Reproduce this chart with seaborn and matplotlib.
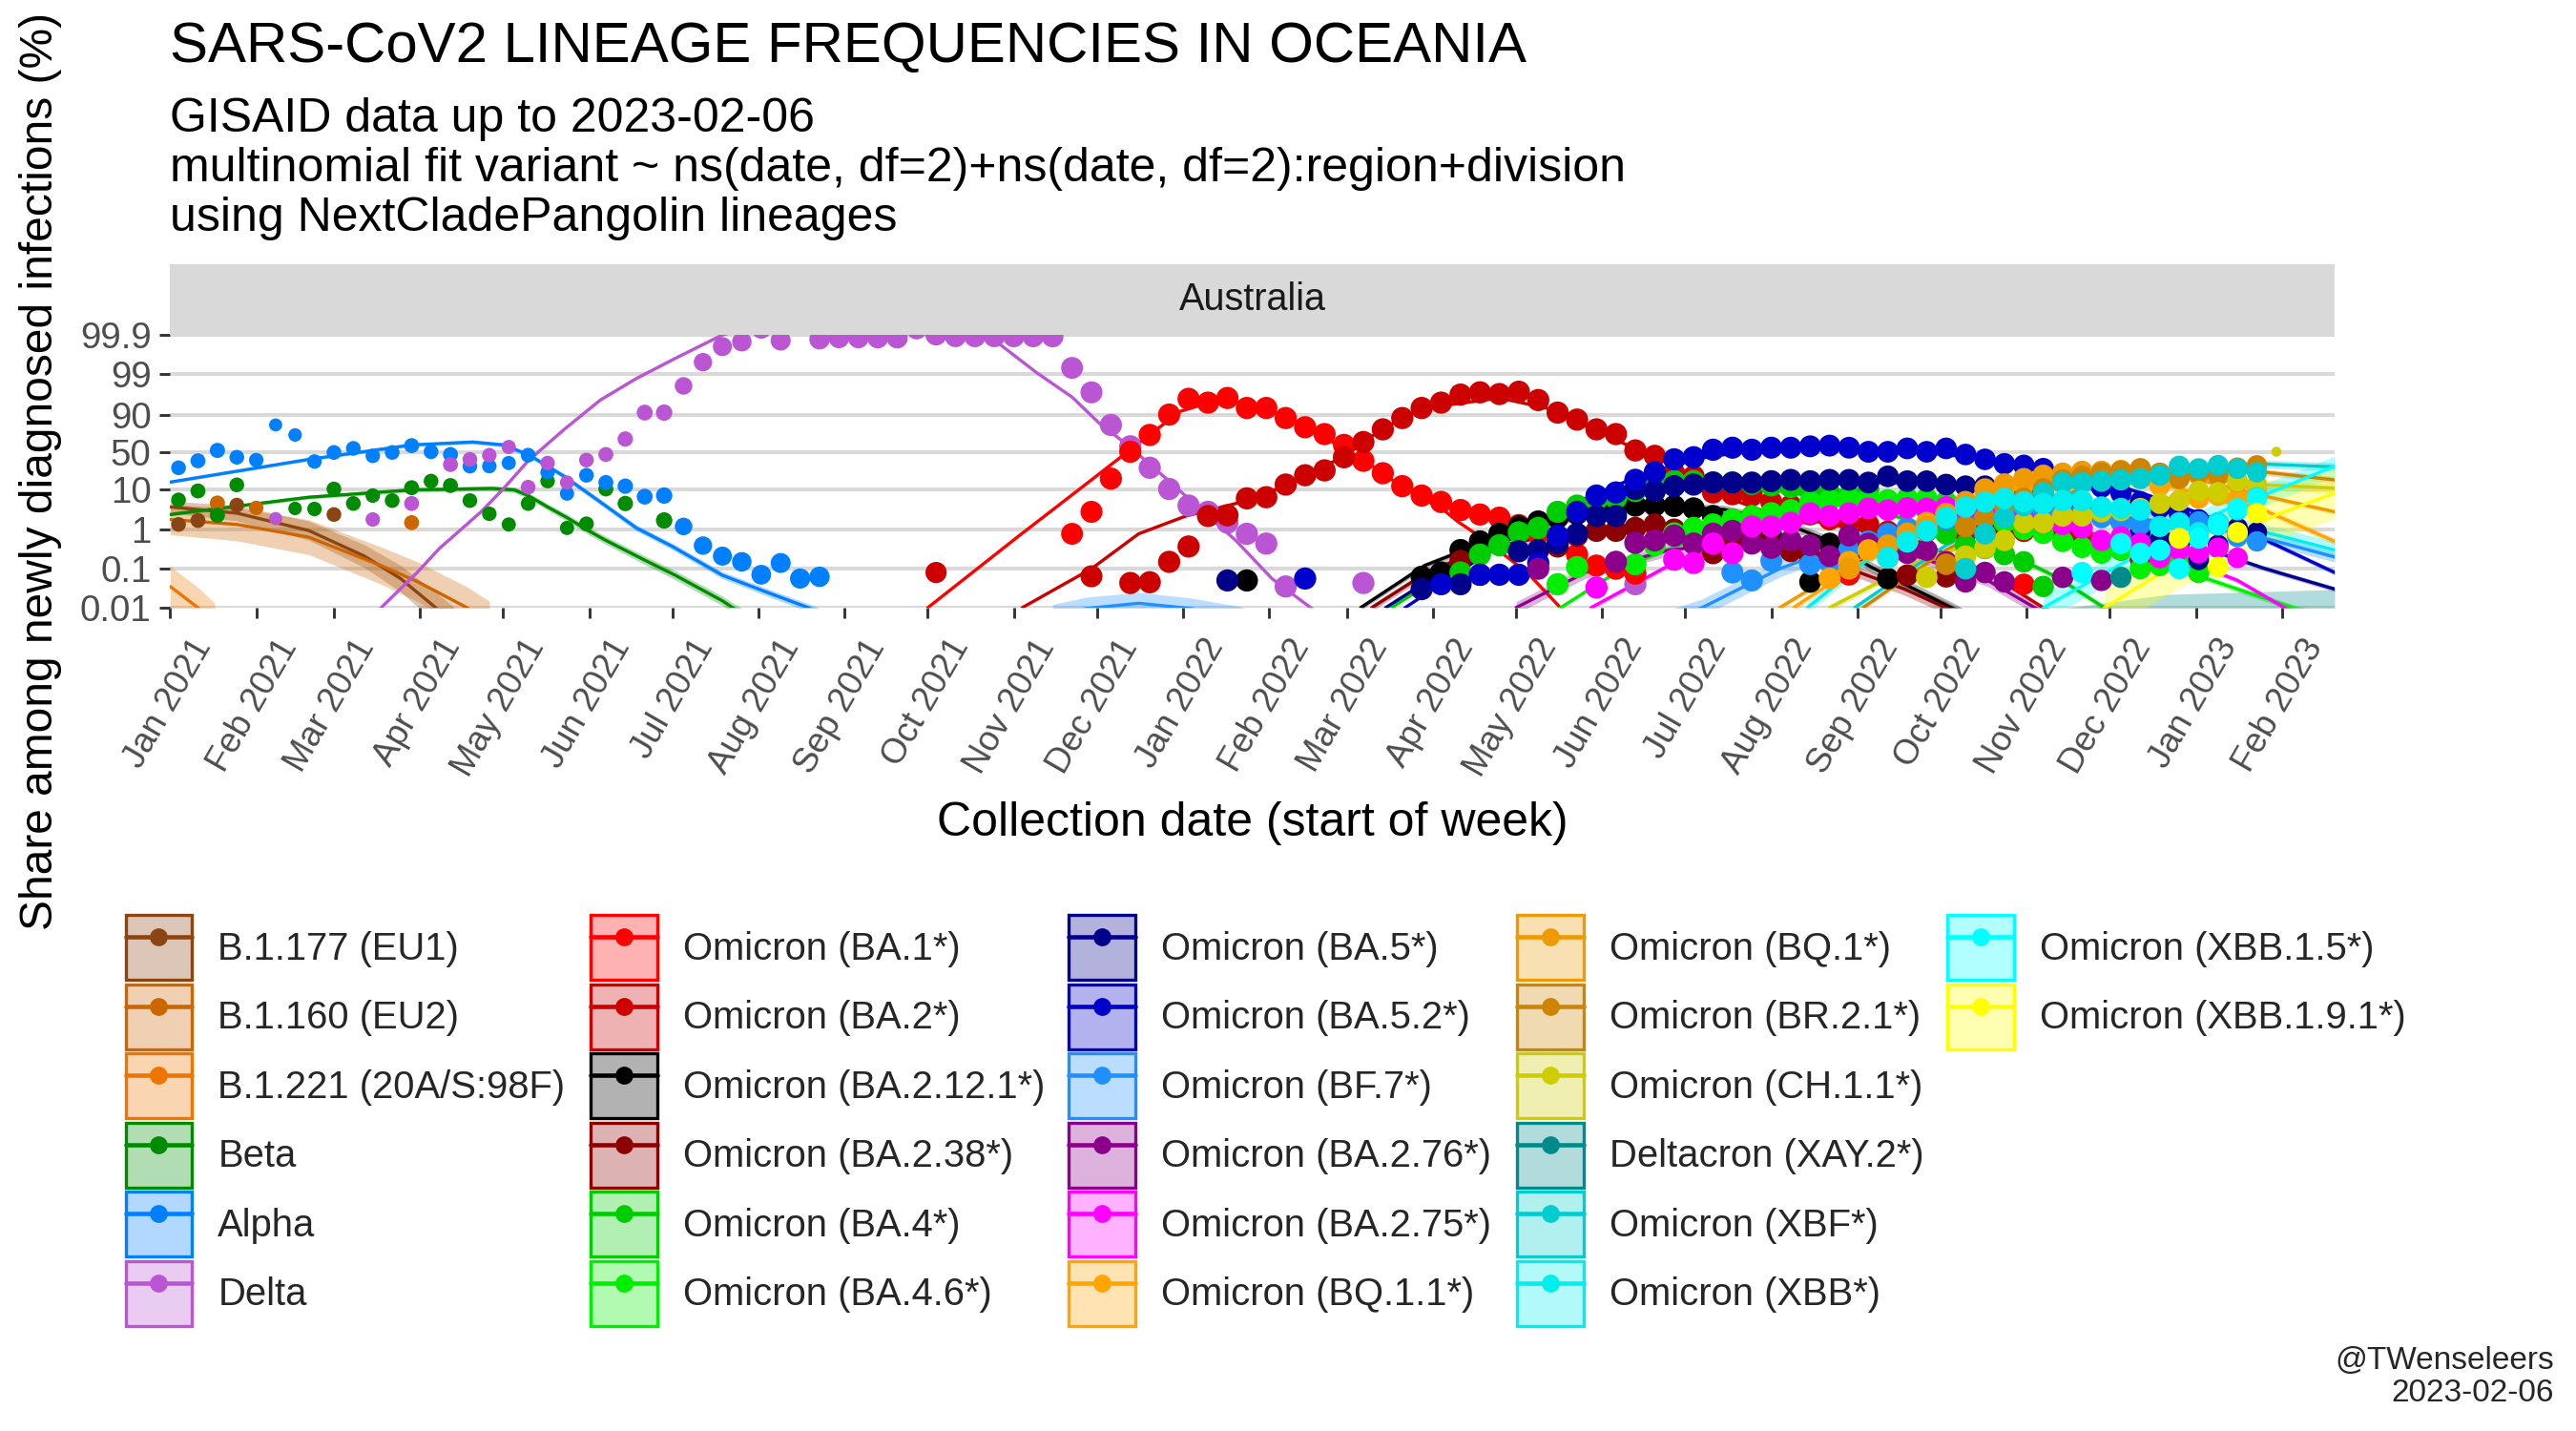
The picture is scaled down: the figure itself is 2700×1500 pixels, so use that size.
import numpy as np
import pandas as pd
import matplotlib
matplotlib.use("Agg")
import matplotlib.pyplot as plt
import matplotlib.dates as mdates
import matplotlib.transforms as mtransforms
from matplotlib.colors import LogNorm, to_rgba
from matplotlib.patches import Patch, Rectangle
from matplotlib.lines import Line2D
from matplotlib.legend_handler import HandlerPatch
from matplotlib.ticker import NullLocator, NullFormatter
import seaborn as sns

# ------------------------------------------------------------------ data
DAY0 = pd.Timestamp("2021-01-01")      # fit knots are given in days since DAY0
WEEK0 = pd.Timestamp("2021-01-04")     # weekly points: week index since WEEK0
X_END_DAY = 780

LINEAGES = ["B.1.177 (EU1)", "B.1.160 (EU2)", "B.1.221 (20A/S:98F)", "Beta", "Alpha", "Delta",
            "Omicron (BA.1*)", "Omicron (BA.2*)", "Omicron (BA.2.12.1*)", "Omicron (BA.2.38*)",
            "Omicron (BA.4*)", "Omicron (BA.4.6*)", "Omicron (BA.5*)", "Omicron (BA.5.2*)",
            "Omicron (BF.7*)", "Omicron (BA.2.76*)", "Omicron (BA.2.75*)", "Omicron (BQ.1.1*)",
            "Omicron (BQ.1*)", "Omicron (BR.2.1*)", "Omicron (CH.1.1*)", "Deltacron (XAY.2*)",
            "Omicron (XBF*)", "Omicron (XBB*)", "Omicron (XBB.1.5*)", "Omicron (XBB.1.9.1*)"]
COLORS = ["#8B4513", "#CD6600", "#EE7600", "#008B00", "#0080FF", "#BA55D3",
          "#FF0000", "#CD0000", "#000000", "#8B0000", "#00CD00", "#00EE00",
          "#00008B", "#0000CD", "#1E90FF", "#8B008B", "#FF00FF", "#FFA500",
          "#EE9A00", "#CD8500", "#CDCD00", "#008B8B", "#00CDCD", "#00EEEE",
          "#00FFFF", "#FFFF00"]

Y_TICKS = [0.01, 0.1, 1, 10, 50, 90, 99, 99.9]
Y_TICK_LABELS = ["0.01", "0.1", "1", "10", "50", "90", "99", "99.9"]

WEEKLY_TOTAL = [120, 130, 140, 120, 110, 70, 80, 110, 120, 120,
                110, 120, 130, 120, 130, 120, 110, 100, 120, 110,
                100, 120, 130, 150, 180, 220, 350, 500, 650, 800,
                900, 1000, 1100, 1200, 1300, 1400, 1500, 1600, 1700, 1800,
                1900, 2000, 2000, 2100, 2200, 2300, 2500, 2700, 2900, 3000,
                3000, 3000, 3000, 3000, 3000, 3000, 3000, 3000, 3000, 3000,
                3000, 3000, 3000, 3000, 3000, 3000, 3000, 3000, 3000, 3000,
                3000, 3000, 3000, 3000, 3000, 3000, 3000, 3000, 3000, 3000,
                2800, 2800, 2700, 2600, 2500, 2500, 2400, 2400, 2300, 2300,
                2200, 2200, 2100, 2100, 2000, 2000, 2000, 2000, 1900, 1900,
                1800, 1800, 1700, 1600, 1500, 1500, 1400, 1200, 15]

# observed weekly shares (%): (first week index, values)
PTS_B1177 = (0, [1.35, 1.7, None, 4.1, None, None, None, None, 2.4])
PTS_B1160 = (2, [4.6, None, 3.5, None, None, None, None, None, None, None, 1.5])
PTS_B1221 = (0, [])
PTS_BETA = (0, [5.5, 9, 2.3, 12.4, None, None, 3.4, 3.3, 10, 4.5, 7, 5.3, 10.7, 15, 12, 5.3,
                2.5, 1.35, 4.5, 15, 1.1, 1.4, 10, 4.5, None, 1.7])
PTS_ALPHA = (0, [28, 37, 52, 42, 38, 83, 73, 36, 49, 55, 44, 49, 59, 50, 46, 30, 30, 34, 45, 23,
                 7.8, 20, 14, 11.6, 6.6, 7, 1.2, 0.39, 0.21, 0.15, 0.07, 0.14, 0.056, 0.062])
PTS_DELTA = (5, [1.9, None, None, None, None, 1.8, None, 4.5, None, 32, 39, 45, 57, 11, 34, 14,
                 38, 46, 68, 91, 91, 98, 99.5, 99.8, 99.85, 99.93, 99.86, 99.95, 99.87, 99.88,
                 99.88, 99.88, 99.88, 99.93, 99.9, 99.89, 99.89, 99.89, 99.89, 99.89, 99.89,
                 99.3, 97.1, 83, 58, 28, 10, 4, 2.8, 1.5, 0.78, 0.44, 0.035, None, None, None,
                 0.043] + [None] * 13 + [0.04])
PTS_BA1 = (46, [0.78, 2.8, 17, 50, 73, 90, 95.8, 94.8, 96, 93, 93, 88, 81, 74, 60, 37, 22, 11.6,
                7, 4.9, 3.1, 2.4, 2.0, 1.3, 0.8, 0.45, 0.23, 0.12, 0.1, 0.075]
           + [None] * 10 + [0.07] + [None] * 8 + [0.04])
PTS_BA2 = (39, [0.08] + [None] * 7 +
           [0.064, None, 0.043, 0.045, 0.15, 0.37, 2.2, 2.3, 6, 6.4, 12.6, 20, 25, 42, 64, 79,
            88, 93, 94.8, 96.7, 97.1, 96.8, 97.2, 95.5, 91, 87, 79, 74, 52, 44, 22, 19, 8.3, 7.5,
            7, 4.9, 4, 2.4, 1.8, 1.6, 1.35, 0.9, 1.0, 0.9, 0.8, 0.8, 0.9, 0.8, 0.9, 0.85, 0.8,
            0.7, 0.5, 0.3, 0.17, 0.25, 0.12, 0.08])
PTS_BA2121 = (55, [0.05] + [None] * 8 +
              [0.062, 0.08, 0.3, 0.5, 0.78, 1.2, 1.6, 2.0, 2.5, 3.0, 3.5, 4, 4, 3.9, 3.4, 2.2,
               1.5, 1.0, 0.7, 0.4, 0.046, 0.44, 0.2, None, 0.056])
PTS_BA238 = (66, [0.16, None, None, None, None, 0.37, 0.7, 0.93, 0.93, 1.1, 1.35, 1.0, 0.8,
                  0.25, 0.5, 0.6, 0.4, 0.28, 0.2, 0.15, None, None, None, 0.068, None, 0.062])
PTS_BA4 = (66, [0.08, 0.23, 0.4, 0.85, 1.1, 2.8, 4, 5.5, 6, 9, 12, 15, 15, 14, 14, 13, 12, 11,
                9, 8, 7, 10, 5, 4, 3, 0.78, 0.4, 0.33, 0.23, 0.15, 0.035])
PTS_BA46 = (71, [0.04, 0.11, None, None, 0.13, 0.4, 0.8, 1.1, 1.35, 1.8, 2.2, 2.6, 3.1, 4.9,
                 5.5, 6, 6, 5.5, 6, 6, 5, 3.5, 2.5, 1.5, 1.0, 0.8, 0.5, 0.35, 0.25, 0.3, 0.1,
                 0.12, 0.15, 0.08])
PTS_BA5 = (54, [0.05] + [None] * 9 +
           [0.03, None, 0.04, 0.07, None, 0.28, 0.3, 0.45, 0.78, 2.2, 2.2, 10, 9, 11.6, 12.6,
            14, 14, 14, 15, 16, 15, 16, 16, 14, 19, 15, 15, 12.6, 11.6, 11.6, 10.6, 9, 7, 5,
            3.5, 2.5, 1.6, 0.9, 0.53, 0.37, 0.17, 0.4, 1.1, 0.85])
PTS_BA52 = (58, [0.056] + [None] * 6 +
            [0.04, None, 0.07, 0.07, 0.07, 0.14, 0.7, 2.8, 7, 8.3, 16, 23, 39, 42, 53, 56, 53,
             56, 56, 58, 59, 56, 50, 50, 55, 50, 55, 46, 39, 33, 31, 27, 20, 15, 11, 8, 5, 3.5,
             2.5, 1.8, 1.3, 0.8])
PTS_BF7 = (80, [0.08, 0.05, 0.16, None, 0.13, 0.15, 0.3, 0.5, 0.78, 1.1, 1.4, 1.8, 2.2, 2.5,
                2.8, 3, 3, 2.8, 2.8, 2, 1.6, 1.35, 1.2, 1.5, 1.6, 1.5, 0.65, 0.5])
PTS_BA276 = (70, [0.1, None, None, None, 0.15, 0.46, 0.53, 0.7, 0.44, 0.78, 0.93, 0.44, 0.34,
                  0.53, 0.4, 0.21, 0.7, 0.44, 0.3, 0.25, 0.3, 0.15, 0.046, 0.08, 0.046, None,
                  None, 0.06, None, 0.05])
PTS_BA275 = (73, [0.033, None, None, None, 0.17, 0.14, 0.44, 0.25, 1.2, 1.2, 1.5, 2.6, 2.2,
                  2.6, 3.4, 3.1, 3.5, 3.4, 3.7, 3.2, 2.8, 2.2, 1.8, 1.5, 1.35, 1.1, 0.53, 0.65,
                  0.45, 0.19, 0.3, 0.25, 0.34, 0.19])
PTS_BQ11 = (85, [0.056, 0.15, 0.3, 0.19, 0.5, 1.5, 2.5, 4.5, 7, 10, 12.6, 13, 15, 16, 16, 19,
                 18, 12, 5.3, 6, 7, 6, 8])
PTS_BQ1 = (86, [0.1, None, 0.4, 0.8, 1.2, 2.5, 5, 10, 13, 17, 20, 22, 24, 24, 25, 23, 22, 20,
                20, 19, 14, 12])
PTS_BR21 = (91, [0.13, 1.2, 2, 4, 6, 10, 16, 19, 22, 24, 27, 22, 17, 22, 20, 28, 31])
PTS_CH11 = (90, [0.06, None, 0.21, 0.34, 0.53, 1.5, 1.5, 2.2, 2.2, 2.8, 3, 3.4, 4.5, 5.3, 9,
                 8.3, 15, 12.6, 50])
PTS_XAY2 = (100, [0.06])
PTS_XBF = (92, [0.1, 0.78, 2, 4, 8, 14, 14, 15, 16, 17, 20, 30, 27, 31, 27, 23])
PTS_XBB = (88, [0.19, 0.49, 0.93, 2, 3.7, 4.9, 6, 5, 4.5, 5.3, 5.3, 3.7, 3.4, 3.1, 1.2, 1.5,
                0.85, 1.5, 3.1, 6.4])
PTS_XBB15 = (98, [0.08, None, 0.44, 0.25, 0.3, 0.1, 0.6, 1.3, 3.4, 6])
PTS_XBB191 = (103, [0.6, None, 0.11, 0.85, 2.6])

# multinomial fit: (day since DAY0, %)
FIT_B1177 = [(0, 3.7), (24, 2.6), (50, 0.94), (70, 0.21), (83, 0.056), (95, 0.011), (102, 0.004)]
FIT_B1160 = [(0, 1.8), (24, 1.35), (50, 0.64), (76, 0.12), (89, 0.047), (107, 0.01), (115, 0.004)]
FIT_B1221 = [(0, 0.035), (10, 0.01), (16, 0.004)]
FIT_BETA = [(0, 2.4), (50, 6.4), (87, 9.5), (116, 10.3), (124, 9.5), (129, 7), (136, 3.7),
            (143, 2.0), (150, 1.0), (157, 0.53), (170, 0.18), (182, 0.068), (199, 0.015),
            (206, 0.007)]
FIT_ALPHA = [(0, 14.3), (50, 39), (87, 60), (109, 64), (120, 60), (129, 46), (142, 19),
             (155, 4.9), (168, 1.1), (181, 0.37), (199, 0.068), (215, 0.025), (230, 0.01),
             (240, 0.005)]
FIT_DELTA = [(76, 0.01), (89, 0.08), (97, 0.33), (103, 0.78), (112, 2.8), (120, 10), (129, 37),
             (142, 79), (155, 95.5), (168, 98.7), (182, 99.6), (199, 99.9), (220, 99.96),
             (250, 99.98), (275, 99.96), (296, 99.88), (312, 99.1), (325, 96.2), (335, 84),
             (345, 60), (358, 19), (371, 3.4), (384, 0.53), (397, 0.056), (411, 0.01),
             (420, 0.004)]
FIT_BA1 = [(273, 0.01), (305, 0.62), (332, 16), (345, 50), (364, 91.6), (375, 95), (385, 95),
           (400, 90), (410, 80), (423, 55), (430, 38), (437, 22), (444, 11), (451, 6),
           (458, 3.5), (464, 1.6), (474, 0.53), (489, 0.08), (501, 0.01), (510, 0.004)]
FIT_BA2 = [(307, 0.01), (332, 0.1), (349, 0.78), (366, 2.2), (384, 4.5), (395, 8), (406, 15),
           (415, 28), (424, 46), (437, 80), (452, 93), (479, 96), (496, 93), (525, 60),
           (538, 37), (556, 8.3), (575, 2.8), (600, 1.3), (630, 0.5), (655, 0.08), (675, 0.01),
           (690, 0.004)]
FIT_BA2121 = [(429, 0.01), (452, 0.12), (476, 0.55), (500, 1.6), (520, 3.0), (540, 3.8),
              (560, 3.2), (580, 1.6), (600, 0.45), (612, 0.12), (625, 0.04), (642, 0.01),
              (655, 0.003)]
FIT_BA238 = [(433, 0.01), (455, 0.1), (480, 0.4), (505, 0.9), (530, 1.1), (555, 0.8), (580, 0.35),
             (605, 0.1), (625, 0.03), (640, 0.01), (650, 0.004)]
FIT_BA4 = [(440, 0.01), (460, 0.08), (480, 0.5), (500, 2.0), (520, 5.5), (540, 9.5), (560, 11),
           (580, 9), (600, 5.5), (620, 2.4), (640, 0.8), (660, 0.3), (680, 0.06), (697, 0.01),
           (710, 0.004)]
FIT_BA46 = [(501, 0.01), (525, 0.12), (550, 0.6), (575, 2), (600, 4), (620, 4.5), (640, 3.5),
            (660, 2), (680, 0.9), (700, 0.35), (720, 0.12), (745, 0.03), (765, 0.01), (780, 0.005)]
FIT_BA5 = [(438, 0.01), (460, 0.1), (480, 0.6), (500, 2.5), (520, 7), (540, 12), (560, 14),
           (600, 15), (640, 13), (670, 8), (690, 4), (710, 1.5), (730, 0.4), (755, 0.1), (780, 0.03)]
FIT_BA52 = [(445, 0.01), (470, 0.15), (490, 1.2), (510, 6), (530, 20), (550, 40), (570, 52),
            (600, 55), (630, 50), (660, 38), (690, 20), (720, 5), (750, 0.8), (780, 0.08)]
FIT_BF7 = [(318, 0.006), (330, 0.0095), (349, 0.013), (368, 0.0095), (385, 0.006), (400, 0.003),
           (530, 0.003), (552, 0.01), (580, 0.1), (610, 0.6), (640, 1.6), (670, 2.4), (700, 2.2),
           (730, 1.3), (755, 0.6), (780, 0.2)]
FIT_BA276 = [(485, 0.01), (510, 0.08), (540, 0.3), (570, 0.5), (600, 0.45), (630, 0.2),
             (655, 0.05), (672, 0.01), (685, 0.004)]
FIT_BA275 = [(512, 0.01), (540, 0.12), (570, 0.8), (600, 2.2), (630, 3), (660, 2.2), (690, 0.9),
             (720, 0.25), (745, 0.05), (762, 0.01), (775, 0.004)]
FIT_BQ11 = [(585, 0.01), (610, 0.15), (640, 1.5), (670, 8), (700, 14), (720, 12), (740, 5),
            (752, 3.7), (780, 0.5)]
FIT_BQ1 = [(580, 0.01), (610, 0.2), (640, 2), (670, 12), (700, 22), (725, 20), (750, 8), (780, 2.8)]
FIT_BR21 = [(610, 0.01), (640, 0.3), (670, 4), (700, 16), (730, 24), (752, 24), (780, 16)]
FIT_CH11 = [(598, 0.01), (630, 0.15), (660, 0.8), (690, 2.5), (720, 6), (752, 12.6), (780, 10.5)]
FIT_XAY2 = [(670, 0.002), (720, 0.006), (780, 0.008)]
FIT_XBF = [(607, 0.01), (640, 0.4), (670, 4), (700, 14), (730, 25), (752, 33), (780, 29)]
FIT_XBB = [(590, 0.01), (620, 0.5), (650, 3.5), (680, 5), (710, 3.5), (740, 1.5), (760, 0.7),
           (780, 0.3)]
FIT_XBB15 = [(675, 0.01), (700, 0.1), (720, 0.6), (740, 3), (760, 10), (780, 30)]
FIT_XBB191 = [(697, 0.01), (720, 0.1), (740, 0.6), (760, 2.5), (780, 8)]

# 95% CI half-width on the logit scale (first knot, last knot)
CI_WIDTH = [(0.35, 1.0), (0.9, 1.3), (1.2, 1.2), (0.1, 0.3), (0.08, 0.25), (0.05, 0.08),
            (0.05, 0.1), (0.05, 0.1), (0.15, 0.35), (0.2, 0.4), (0.1, 0.2), (0.1, 0.2),
            (0.08, 0.15), (0.05, 0.15), (0.7, 0.3), (0.35, 0.35), (0.15, 0.15), (0.2, 0.2),
            (0.15, 0.15), (0.15, 0.2), (0.2, 0.3), (1.3, 1.3), (0.15, 0.25), (0.3, 0.5),
            (0.8, 0.6), (1.5, 1.5)]

PTS = [PTS_B1177, PTS_B1160, PTS_B1221, PTS_BETA, PTS_ALPHA, PTS_DELTA, PTS_BA1, PTS_BA2,
       PTS_BA2121, PTS_BA238, PTS_BA4, PTS_BA46, PTS_BA5, PTS_BA52, PTS_BF7, PTS_BA276,
       PTS_BA275, PTS_BQ11, PTS_BQ1, PTS_BR21, PTS_CH11, PTS_XAY2, PTS_XBF, PTS_XBB,
       PTS_XBB15, PTS_XBB191]
FITS = [FIT_B1177, FIT_B1160, FIT_B1221, FIT_BETA, FIT_ALPHA, FIT_DELTA, FIT_BA1, FIT_BA2,
        FIT_BA2121, FIT_BA238, FIT_BA4, FIT_BA46, FIT_BA5, FIT_BA52, FIT_BF7, FIT_BA276,
        FIT_BA275, FIT_BQ11, FIT_BQ1, FIT_BR21, FIT_CH11, FIT_XAY2, FIT_XBF, FIT_XBB,
        FIT_XBB15, FIT_XBB191]

# ------------------------------------------------------------------ frames
pt_rows = []
for name, (start, vals) in zip(LINEAGES, PTS):
    for k, v in enumerate(vals):
        if v is None:
            continue
        w = start + k
        pt_rows.append({"lineage": name, "date": WEEK0 + pd.Timedelta(days=7 * w),
                        "prop": v / 100.0, "n": WEEKLY_TOTAL[w]})
pts_df = pd.DataFrame(pt_rows)

fit_rows = []
for name, fit in zip(LINEAGES, FITS):
    for d, p in fit:
        fit_rows.append({"lineage": name, "date": DAY0 + pd.Timedelta(days=d), "prop": p / 100.0})
fit_df = pd.DataFrame(fit_rows)


def logit(p):
    return np.log(p / (1 - p))


def expit(x):
    return 1 / (1 + np.exp(-x))


# ------------------------------------------------------------------ figure
sns.set_theme(style="white")
plt.rcParams["font.family"] = ["Liberation Sans", "DejaVu Sans"]

W, H = 2700, 1500
fig = plt.figure(figsize=(18, 10), dpi=150)
fig.patch.set_facecolor("white")

PX_L, PX_R, PX_T, PX_B = 178.4, 2447, 351, 637
ax = fig.add_axes([PX_L / W, 1 - PX_B / H, (PX_R - PX_L) / W, (PX_B - PX_T) / H])
ax.set_facecolor("white")

palette = dict(zip(LINEAGES, COLORS))

for name, col, fit, (a, b) in zip(LINEAGES, COLORS, FITS, CI_WIDTH):
    d = np.array([f[0] for f in fit], dtype=float)
    p = np.array([f[1] for f in fit]) / 100.0
    hw = np.linspace(a, b, len(d))
    dates = DAY0 + pd.to_timedelta(d, unit="D")
    ax.fill_between(dates, expit(logit(p) - hw), expit(logit(p) + hw),
                    color=col, alpha=0.3, linewidth=0, zorder=1)

sns.lineplot(data=fit_df, x="date", y="prop", hue="lineage", hue_order=LINEAGES,
             palette=palette, estimator=None, sort=True, linewidth=1.6, legend=False,
             ax=ax, zorder=2)

sns.scatterplot(data=pts_df, x="date", y="prop", hue="lineage", hue_order=LINEAGES,
                palette=palette, size="n", sizes=(25, 125), size_norm=LogNorm(30, 3000),
                linewidth=0, legend=False, ax=ax, zorder=3)

ax.set_yscale("logit")
ax.set_ylim(1e-4, 0.999)
ax.set_yticks([t / 100 for t in Y_TICKS], Y_TICK_LABELS)
ax.yaxis.set_minor_locator(NullLocator())
ax.yaxis.set_minor_formatter(NullFormatter())
ax.set_xlim(DAY0, DAY0 + pd.Timedelta(days=X_END_DAY))
ax.xaxis.set_major_locator(mdates.MonthLocator())
ax.xaxis.set_major_formatter(mdates.DateFormatter("%b %Y"))
ax.xaxis.set_minor_locator(NullLocator())

ax.grid(False)
ax.grid(axis="y", which="major", color="#D9D9D9", linewidth=1.9)
ax.set_axisbelow(True)
for s in ax.spines.values():
    s.set_visible(False)
ax.set_xlabel("")
ax.set_ylabel("")
ax.tick_params(axis="both", which="major", length=5.5, width=1.4, color="#333333",
               labelcolor="#4D4D4D", left=True, bottom=True)
ax.tick_params(axis="x", pad=3, labelsize=17.5)
ax.tick_params(axis="y", pad=4, labelsize=18.5)
shift = mtransforms.ScaledTranslation(20 / 150, -9 / 150, fig.dpi_scale_trans)
for lab in ax.get_xticklabels():
    lab.set_rotation(60)
    lab.set_ha("right")
    lab.set_va("top")
    lab.set_rotation_mode("anchor")
    lab.set_transform(lab.get_transform() + shift)

# facet strip
sax = fig.add_axes([PX_L / W, 1 - PX_T / H, (PX_R - PX_L) / W, (PX_T - 277) / H])
sax.set_facecolor("#D9D9D9")
sax.set_xticks([])
sax.set_yticks([])
for s in sax.spines.values():
    s.set_visible(False)
sax.text(0.5, 0.5, "Australia", ha="center", va="center", fontsize=19, color="#1A1A1A",
         transform=sax.transAxes)

# titles
fig.text(PX_L / W, 1 - 65 / H, "SARS-CoV2 LINEAGE FREQUENCIES IN OCEANIA", fontsize=28.8,
         va="baseline", ha="left", color="black")
for txt, yb in [("GISAID data up to 2023-02-06", 138),
                ("multinomial fit variant ~ ns(date, df=2)+ns(date, df=2):region+division", 190),
                ("using NextCladePangolin lineages", 242)]:
    fig.text(PX_L / W, 1 - yb / H, txt, fontsize=24, va="baseline", ha="left", color="black")

fig.text((PX_L + PX_R) / 2 / W, 1 - 876 / H, "Collection date (start of week)", fontsize=24,
         ha="center", va="baseline", color="black")
fig.text(43 / W, 1 - (PX_T + PX_B) / 2 / H, "Share among newly diagnosed infections (%)",
         fontsize=23, rotation=90, ha="center", va="center", color="black")

# caption
fig.text(2677 / W, 1 - 1435 / H, "@TWenseleers", fontsize=16, ha="right", va="baseline")
fig.text(2677 / W, 1 - 1469 / H, "2023-02-06", fontsize=16, ha="right", va="baseline")


# legend: 5 columns, keys = translucent box + line + point
def full_box(legend, orig_handle, xdescent, ydescent, width, height, fontsize):
    return Rectangle((-xdescent, -ydescent), width, height)


col_x = [131.5, 619, 1120, 1590, 2041]
for ci, x0 in enumerate(col_x):
    names = LINEAGES[ci * 6: ci * 6 + 6]
    cols = COLORS[ci * 6: ci * 6 + 6]
    handles = [(Patch(facecolor=to_rgba(c, 0.3), edgecolor=c, linewidth=1.6),
                Line2D([], [], color=c, linewidth=2.2, marker="o", markersize=8))
               for c in cols]
    fig.legend(handles, names, loc="upper left", bbox_to_anchor=(x0 / W, 1 - 959 / H),
               frameon=False, fontsize=19.2, handlelength=1.74, handleheight=2.25,
               handletextpad=0.68, labelspacing=0.105, borderpad=0, borderaxespad=0,
               handler_map={Patch: HandlerPatch(patch_func=full_box)})

fig.savefig("out.png", dpi=150, facecolor="white")
